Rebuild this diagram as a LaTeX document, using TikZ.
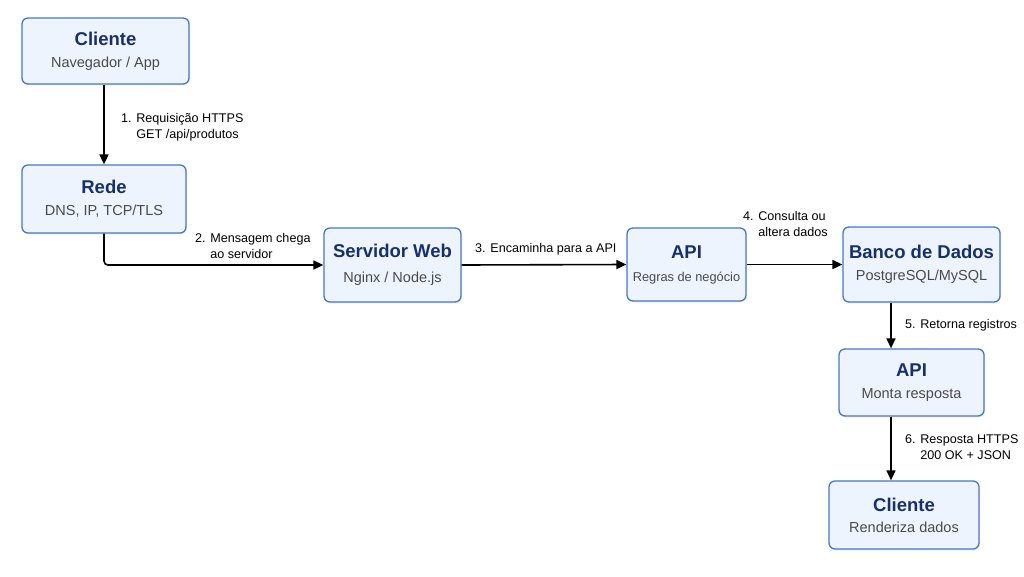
\documentclass[tikz,border=0pt]{standalone}
\usepackage{fontspec}
\setmainfont{Liberation Sans}
\usetikzlibrary{arrows.meta,shadows}
\definecolor{boxfill}{HTML}{EEF4FD}
\definecolor{boxline}{HTML}{4477C4}
\definecolor{titlec}{HTML}{17306B}
\definecolor{subc}{HTML}{4A4A4A}
\tikzset{
  card/.style={draw=boxline, line width=1.3pt, fill=boxfill, rounded corners=6pt,
    align=center, inner sep=0pt,
    drop shadow={opacity=0.12, shadow xshift=1pt, shadow yshift=-1.5pt}},
  conn/.style={line width=1.6pt, -{Triangle[length=10pt,width=9pt]}},
  lbl/.style={anchor=west, inner sep=0pt, font=\fontsize{12.6}{16.5}\selectfont}
}
\newcommand{\ttl}[1]{{\fontsize{18.5}{21}\selectfont\bfseries\color{titlec}#1}}
\newcommand{\sbt}[1]{{\fontsize{14.5}{17}\selectfont\color{subc}#1}}
\newcommand{\stp}[3]{\begin{tabular}{@{}l@{ }l@{}}#1 & #2\\ & #3\end{tabular}}
\begin{document}
\begin{tikzpicture}[x=1pt,y=-1pt]
\useasboundingbox[fill=white] (0,0) rectangle (1024,576);
\node[card, minimum width=167pt, minimum height=66pt] (c1) at (105.5,51) {\ttl{Cliente}\\[10pt]\sbt{Navegador / App}};
\node[card, minimum width=164pt, minimum height=68pt] (rede) at (104,199) {\ttl{Rede}\\[10pt]\sbt{DNS, IP, TCP/TLS}};
\node[card, minimum width=137pt, minimum height=74pt] (web) at (392.5,265) {\ttl{Servidor Web}\\[13pt]\sbt{Nginx / Node.js}};
\node[card, minimum width=119pt, minimum height=73pt] (api1) at (686.5,264.5) {\ttl{API}\\[11pt]{\fontsize{12.8}{15}\selectfont\color{subc}Regras de negócio}};
\node[card, minimum width=157pt, minimum height=75pt] (db) at (921.5,264.5) {\ttl{Banco de Dados}\\[10pt]\sbt{PostgreSQL/MySQL}};
\node[card, minimum width=145pt, minimum height=67pt] (api2) at (911.5,382.5) {\ttl{API}\\[10pt]\sbt{Monta resposta}};
\node[card, minimum width=150pt, minimum height=68pt] (c2) at (904,515) {\ttl{Cliente}\\[9pt]\sbt{Renderiza dados}};

\draw[conn] (rede.north |- c1.south) -- (rede.north);
\draw[conn, rounded corners=4pt] (rede.south) |- (web.west);
\draw[conn] (web.east) -- (api1.west);
\draw[conn] (api1.east) -- (db.west);
\draw[conn] (db.south -| api2.north) ++(-20.5,0) coordinate (d5) -- (d5 |- api2.north);
\draw[conn] (api2.south) ++(-20.5,0) coordinate (d6) -- (d6 |- c2.north);

\node[lbl] (l1) at (121,127) {\stp{1.}{Requisição HTTPS}{GET /api/produtos}};
\node[lbl] (l2) at (195,247) {\stp{2.}{Mensagem chega}{ao servidor}};
\node[lbl] (l3) at (475,249) {3. Encaminha para a API};
\node[lbl] (l4) at (743,225) {\stp{4.}{Consulta ou}{altera dados}};
\node[lbl] (l5) at (905,325) {5. Retorna registros};
\node[lbl] (l6) at (905,448) {\stp{6.}{Resposta HTTPS}{200 OK + JSON}};
\end{tikzpicture}
\end{document}
